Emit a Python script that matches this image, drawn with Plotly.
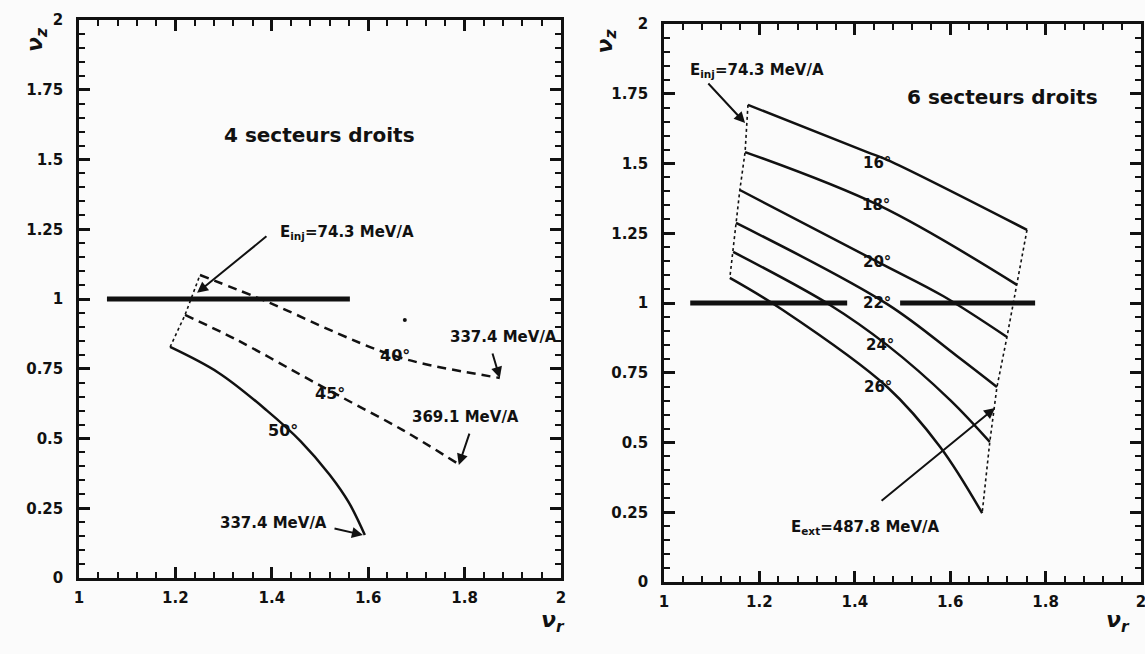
import plotly.graph_objects as go

# ---------------- data: left panel (4 secteurs droits) ----------------
nu_r_40 = [1.251, 1.396, 1.535, 1.631, 1.707, 1.873]
nu_z_40 = [1.086, 0.986, 0.878, 0.810, 0.771, 0.717]
nu_r_45 = [1.220, 1.328, 1.479, 1.556, 1.672, 1.784]
nu_z_45 = [0.943, 0.853, 0.710, 0.638, 0.530, 0.412]
nu_r_50 = [1.189, 1.29, 1.39, 1.46, 1.52, 1.56, 1.593]
nu_z_50 = [0.828, 0.735, 0.600, 0.490, 0.370, 0.270, 0.154]
res_left_x = [1.058, 1.562]
res_left_y = [1.0, 1.0]

# ---------------- data: right panel (6 secteurs droits) ----------------
nu_r_16 = [1.176, 1.426, 1.468, 1.761]
nu_z_16 = [1.710, 1.541, 1.513, 1.262]
nu_r_18 = [1.170, 1.453, 1.740]
nu_z_18 = [1.541, 1.348, 1.065]
nu_r_20 = [1.159, 1.453, 1.585, 1.719]
nu_z_20 = [1.405, 1.143, 1.025, 0.878]
nu_r_22 = [1.151, 1.468, 1.614, 1.698]
nu_z_22 = [1.287, 0.996, 0.810, 0.699]
nu_r_24 = [1.145, 1.348, 1.468, 1.600, 1.683]
nu_z_24 = [1.183, 0.993, 0.849, 0.652, 0.502]
nu_r_26 = [1.138, 1.249, 1.468, 1.579, 1.667]
nu_z_26 = [1.090, 0.975, 0.699, 0.484, 0.247]
res_right1_x = [1.055, 1.384]
res_right2_x = [1.495, 1.778]
res_right_y = [1.0, 1.0]

# axis ticks: major labels and minor step
x_tickvals = [1, 1.2, 1.4, 1.6, 1.8, 2]
x_ticktext = ["1", "1.2", "1.4", "1.6", "1.8", "2"]
x_minor_step = 0.04
y_tickvals = [0, 0.25, 0.5, 0.75, 1, 1.25, 1.5, 1.75, 2]
y_ticktext = ["0", "0.25", "0.5", "0.75", "1", "1.25", "1.5", "1.75", "2"]
y_minor_step = 0.05

FONT = "DejaVu Sans"
BLACK = "#111111"

fig = go.Figure()

def line(x, y, xa, ya, width=2.5, dash=None, shape="spline"):
    fig.add_trace(go.Scatter(x=x, y=y, xaxis=xa, yaxis=ya, mode="lines",
                             line=dict(color=BLACK, width=width, dash=dash, shape=shape),
                             showlegend=False, hoverinfo="skip"))

# left panel
line(res_left_x, res_left_y, "x", "y", width=5, shape="linear")
line(nu_r_40, nu_z_40, "x", "y", dash="9px,6px")
line(nu_r_45, nu_z_45, "x", "y", dash="9px,6px")
line(nu_r_50, nu_z_50, "x", "y")
line([nu_r_50[0], nu_r_45[0], nu_r_40[0]], [nu_z_50[0], nu_z_45[0], nu_z_40[0]],
     "x", "y", width=1.6, dash="dot", shape="linear")
fig.add_trace(go.Scatter(x=[1.676], y=[0.925], xaxis="x", yaxis="y", mode="markers",
                         marker=dict(color=BLACK, size=4), showlegend=False, hoverinfo="skip"))

# right panel
line(res_right1_x, res_right_y, "x2", "y2", width=5, shape="linear")
line(res_right2_x, res_right_y, "x2", "y2", width=5, shape="linear")
curves_r = [(nu_r_16, nu_z_16), (nu_r_18, nu_z_18), (nu_r_20, nu_z_20),
            (nu_r_22, nu_z_22), (nu_r_24, nu_z_24), (nu_r_26, nu_z_26)]
for cx, cy in curves_r:
    line(cx, cy, "x2", "y2")
line([c[0][0] for c in curves_r], [c[1][0] for c in curves_r], "x2", "y2",
     width=1.6, dash="dot", shape="linear")
line([c[0][-1] for c in curves_r], [c[1][-1] for c in curves_r], "x2", "y2",
     width=1.6, dash="dot", shape="linear")

ann = []

def text(x, y, s, xr, yr, size=15, weight="bold"):
    ann.append(dict(x=x, y=y, xref=xr, yref=yr, text=s, showarrow=False,
                    font=dict(family=FONT, size=size, color=BLACK, weight=weight)))

def arrow(x, y, ax, ay, xr, yr):
    ann.append(dict(x=x, y=y, ax=ax, ay=ay, xref=xr, yref=yr, axref=xr, ayref=yr,
                    text="", showarrow=True, arrowhead=2, arrowsize=1.1,
                    arrowwidth=2, arrowcolor=BLACK))

# left panel texts
text(1.498, 1.588, "4 secteurs droits", "x", "y", size=20, weight=600)
text(1.556, 1.237, "E<sub>inj</sub>=74.3 MeV/A", "x", "y")
arrow(1.245, 1.022, 1.392, 1.229, "x", "y")
text(1.880, 0.864, "337.4 MeV/A", "x", "y")
arrow(1.873, 0.717, 1.857, 0.810, "x", "y")
text(1.801, 0.577, "369.1 MeV/A", "x", "y")
arrow(1.788, 0.405, 1.811, 0.523, "x", "y")
text(1.403, 0.197, "337.4 MeV/A", "x", "y")
arrow(1.589, 0.154, 1.527, 0.179, "x", "y")
text(1.656, 0.799, "40°", "x", "y", size=16)
text(1.521, 0.663, "45°", "x", "y", size=16)
text(1.423, 0.530, "50°", "x", "y", size=16)

# right panel texts
text(1.709, 1.738, "6 secteurs droits", "x2", "y2", size=20, weight=600)
text(1.195, 1.835, "E<sub>inj</sub>=74.3 MeV/A", "x2", "y2")
arrow(1.170, 1.645, 1.090, 1.792, "x2", "y2")
angle_labels = ["16°", "18°", "20°", "22°", "24°", "26°"]
angle_pos_x = [1.447, 1.444, 1.447, 1.447, 1.453, 1.449]
angle_pos_y = [1.502, 1.351, 1.147, 1.000, 0.849, 0.699]
for s, lx, ly in zip(angle_labels, angle_pos_x, angle_pos_y):
    text(lx, ly, s, "x2", "y2", size=15)
text(1.423, 0.194, "E<sub>ext</sub>=487.8 MeV/A", "x2", "y2")
arrow(1.694, 0.624, 1.453, 0.287, "x2", "y2")

# axis titles
for (px, py) in [(20, 25), (606, 27)]:
    ann.append(dict(x=px / 1145, y=(654 - py) / 654, xref="paper", yref="paper",
                    text="<i>ν<sub>z</sub></i>", showarrow=False, textangle=-90,
                    font=dict(family=FONT, size=22, color=BLACK, weight="bold")))
for (px, py) in [(553, 638), (1132, 638)]:
    ann.append(dict(x=px / 1145, y=(654 - py) / 654, xref="paper", yref="paper",
                    text="<i>ν<sub>r</sub></i>", showarrow=False,
                    font=dict(family=FONT, size=22, color=BLACK, weight="bold")))

common_x = dict(range=[1, 2], tickmode="linear", tick0=x_tickvals[0],
                dtick=x_tickvals[1] - x_tickvals[0], tickformat="~g",
                ticks="inside", ticklen=11, tickwidth=2.5, tickcolor=BLACK,
                showline=True, linewidth=2.5, linecolor=BLACK, mirror="allticks",
                showgrid=False, zeroline=False, ticklabelstandoff=4, automargin=False,
                layer="above traces", ticklabeloverflow="allow",
                tickfont=dict(family=FONT, size=15, color=BLACK, weight="bold"),
                minor=dict(tickmode="linear", dtick=x_minor_step, tick0=x_tickvals[0],
                           ticks="inside", ticklen=6, tickwidth=2,
                           tickcolor=BLACK, showgrid=False))
common_y = dict(range=[0, 2], tickmode="linear", tick0=y_tickvals[0],
                dtick=y_tickvals[1] - y_tickvals[0], tickformat="~g",
                ticks="inside", ticklen=11, tickwidth=2.5, tickcolor=BLACK,
                showline=True, linewidth=2.5, linecolor=BLACK, mirror="allticks",
                showgrid=False, zeroline=False, ticklabelstandoff=10, automargin=False,
                layer="above traces", ticklabeloverflow="allow",
                tickfont=dict(family=FONT, size=15, color=BLACK, weight="bold"),
                minor=dict(tickmode="linear", dtick=y_minor_step, tick0=y_tickvals[0],
                           ticks="inside", ticklen=6, tickwidth=2,
                           tickcolor=BLACK, showgrid=False))

fig.update_layout(
    width=1145, height=654,
    margin=dict(l=0, r=0, t=0, b=0, autoexpand=False),
    paper_bgcolor="#fbfbfb", plot_bgcolor="#fbfbfb",
    showlegend=False,
    xaxis=dict(domain=[79 / 1145, 561 / 1145], anchor="y", **common_x),
    yaxis=dict(domain=[(654 - 578) / 654, (654 - 20) / 654], anchor="x", **common_y),
    xaxis2=dict(domain=[664 / 1145, 1141 / 1145], anchor="y2", **common_x),
    yaxis2=dict(domain=[(654 - 582) / 654, (654 - 24) / 654], anchor="x2", **common_y),
    annotations=ann,
)

fig.write_html("out.html", config={"displayModeBar": False},
               post_script="document.body.style.margin='0';"
                           "document.documentElement.style.overflow='hidden';"
                           "document.body.style.overflow='hidden';")
